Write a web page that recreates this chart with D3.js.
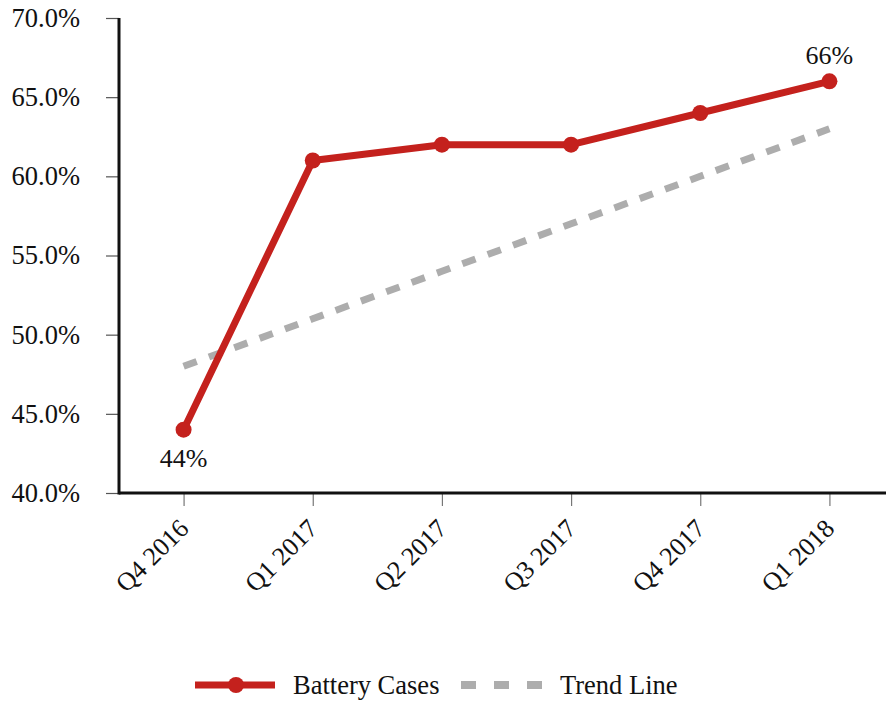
<!DOCTYPE html>
<html>
<head>
<meta charset="utf-8">
<script src="https://cdn.jsdelivr.net/npm/d3@7"></script>
<style>
  html, body { margin: 0; padding: 0; background: #fff; }
  svg text { font-family: "Liberation Serif", "Times New Roman", serif; fill: #111; }
</style>
</head>
<body>
<svg id="chart" width="886" height="702"></svg>
<script>
// Quarterly share of battery cases, with its trend line
const quarters = ["Q4 2016", "Q1 2017", "Q2 2017", "Q3 2017", "Q4 2017", "Q1 2018"];
const batteryCases = [44, 61, 62, 62, 64, 66];
const trendLine = [48, 51, 54, 57, 60, 63];
const yTicks = [40, 45, 50, 55, 60, 65, 70];
const pointLabels = [
  { index: 0, text: "44%", place: "below" },
  { index: 5, text: "66%", place: "above" }
];
const legendItems = ["Battery Cases", "Trend Line"];

const red = "#c4211d";
const grey = "#adadad";
const serif = "'Liberation Serif', 'Times New Roman', serif";

const svg = d3.select("#chart");
const plot = { left: 119, right: 894, top: 18, bottom: 493 };

const x = d3.scalePoint().domain(quarters).range([plot.left, plot.right]).padding(0.5);
const y = d3.scaleLinear().domain([40, 70]).range([plot.bottom, plot.top]);

// Axes
const yAxis = svg.append("g")
  .attr("transform", `translate(${plot.left},0)`)
  .call(d3.axisLeft(y).tickValues(yTicks).tickSize(13).tickPadding(26)
    .tickFormat(d => d.toFixed(1) + "%"))
  .attr("font-family", serif);
yAxis.select(".domain").remove();
yAxis.selectAll(".tick line").attr("stroke", "#555").attr("stroke-width", 1.2);
yAxis.selectAll(".tick text").attr("font-size", 26.5).attr("text-anchor", "end")
  .attr("dy", "0.32em");

const xAxis = svg.append("g")
  .attr("transform", `translate(0,${plot.bottom})`)
  .call(d3.axisBottom(x).tickSize(13).tickPadding(0))
  .attr("font-family", serif);
xAxis.select(".domain").remove();
xAxis.selectAll(".tick line").attr("stroke", "#777").attr("stroke-width", 1.2);
xAxis.selectAll(".tick text")
  .attr("font-size", 26)
  .attr("text-anchor", "end")
  .attr("dy", 0)
  .attr("y", 0)
  .attr("transform", "translate(6,37) rotate(-45)");

// Axis lines
svg.append("line").attr("x1", plot.left).attr("x2", plot.left).attr("y1", plot.top).attr("y2", plot.bottom + 1.5)
  .attr("stroke", "#111").attr("stroke-width", 3);
svg.append("line").attr("x1", plot.left).attr("x2", 886).attr("y1", plot.bottom).attr("y2", plot.bottom)
  .attr("stroke", "#111").attr("stroke-width", 3);

// Trend line
const line = d3.line().x((d, i) => x(quarters[i])).y(d => y(d));
svg.append("path").datum(trendLine).attr("d", line)
  .attr("fill", "none").attr("stroke", grey).attr("stroke-width", 7)
  .attr("stroke-dasharray", "14 13");

// Battery cases series
svg.append("path").datum(batteryCases).attr("d", line)
  .attr("fill", "none").attr("stroke", red).attr("stroke-width", 7)
  .attr("stroke-linejoin", "round");
svg.selectAll("circle.pt").data(batteryCases).join("circle")
  .attr("class", "pt")
  .attr("cx", (d, i) => x(quarters[i])).attr("cy", d => y(d)).attr("r", 8)
  .attr("fill", red);

// Value labels
svg.selectAll("text.val").data(pointLabels).join("text")
  .attr("class", "val")
  .attr("x", d => x(quarters[d.index]))
  .attr("y", d => y(batteryCases[d.index]) + (d.place === "below" ? 37 : -17))
  .attr("text-anchor", "middle").attr("font-size", 26)
  .text(d => d.text);

// Legend
const lg = svg.append("g").attr("transform", "translate(0,685)");
lg.append("line").attr("x1", 195).attr("x2", 275).attr("y1", 0).attr("y2", 0)
  .attr("stroke", red).attr("stroke-width", 7);
lg.append("circle").attr("cx", 236).attr("cy", 0).attr("r", 8).attr("fill", red);
lg.append("text").attr("x", 293).attr("y", 0).attr("dy", "0.33em").attr("font-size", 26.5)
  .text(legendItems[0]);
lg.append("line").attr("x1", 461).attr("x2", 543).attr("y1", 0).attr("y2", 0)
  .attr("stroke", grey).attr("stroke-width", 8).attr("stroke-dasharray", "15 18");
lg.append("text").attr("x", 560).attr("y", 0).attr("dy", "0.33em").attr("font-size", 26.5)
  .text(legendItems[1]);
</script>
</body>
</html>
